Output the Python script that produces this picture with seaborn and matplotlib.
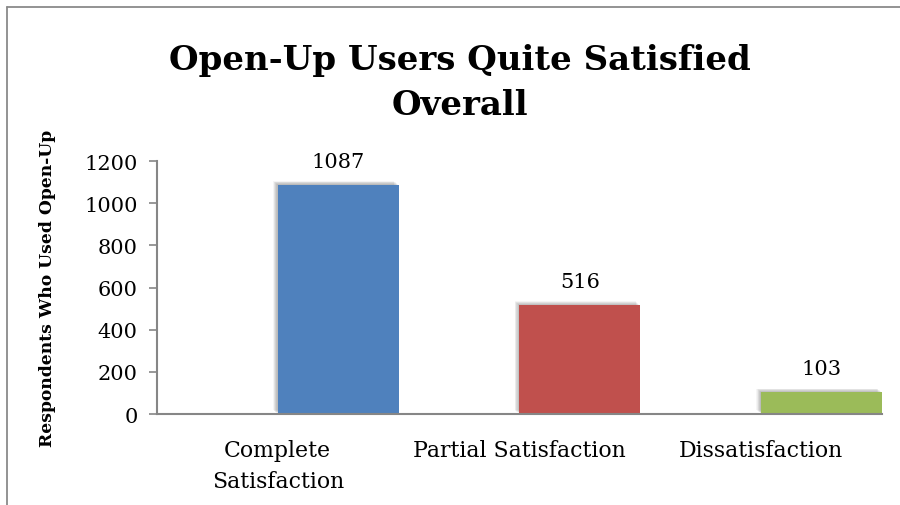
import matplotlib
matplotlib.use("Agg")
import matplotlib.pyplot as plt
import matplotlib.patheffects as pe
from matplotlib.lines import Line2D
import seaborn as sns
import pandas as pd

categories = ["Complete\nSatisfaction", "Partial Satisfaction", "Dissatisfaction"]
respondents = [1087, 516, 103]
bar_colors = ["#4F81BD", "#C0504D", "#9BBB59"]
y_ticks = [0, 200, 400, 600, 800, 1000, 1200]
title = "Open-Up Users Quite Satisfied\nOverall"
y_label = "Respondents Who Used Open-Up"

sns.set_theme(style="white")
plt.rcParams["font.family"] = ["DejaVu Serif"]
plt.rcParams["text.color"] = "black"
plt.rcParams["axes.labelcolor"] = "black"
plt.rcParams["xtick.labelcolor"] = "black"
plt.rcParams["ytick.labelcolor"] = "black"

df = pd.DataFrame({"category": categories, "respondents": respondents})

fig = plt.figure(figsize=(9, 5.06), dpi=100)
ax = fig.add_axes([0.1744, 0.1798, 0.8056, 0.5])

sns.barplot(data=df, x="category", y="respondents", hue="category",
            palette=bar_colors, width=0.5, legend=False, ax=ax,
            saturation=1, linewidth=0)

# bars sit in the right half of each category slot, with a soft shadow
shadow = [pe.SimplePatchShadow(offset=(-d, d * 0.8), shadow_rgbFace="#404040", alpha=0.05)
          for d in (3.4, 3.0, 2.6, 2.2, 1.8, 1.4, 1.0, 0.6)]
for patch in ax.patches:
    patch.set_x(patch.get_x() + 0.25)
    patch.set_path_effects(shadow + [pe.Normal()])

for patch, val in zip(ax.patches, respondents):
    ax.annotate(f"{val}", (patch.get_x() + patch.get_width() / 2, val),
                xytext=(0, 10), textcoords="offset points",
                ha="center", va="bottom", fontsize=15, color="black")

ax.set_xlim(-0.5, 2.5)
ax.set_ylim(0, 1200)
ax.set_yticks(y_ticks)
ax.set_xlabel("")
ax.set_ylabel(y_label, fontsize=12.3, fontweight="bold", labelpad=20)
ax.tick_params(axis="y", which="major", left=True, length=6, width=1.2,
               color="#868686", labelsize=15, pad=8)
ax.tick_params(axis="x", bottom=False, labelsize=15.8, pad=12)
for lbl in ax.get_xticklabels():
    lbl.set_linespacing(1.55)

sns.despine(ax=ax, top=True, right=True)
for side in ("left", "bottom"):
    ax.spines[side].set_color("#868686")
    ax.spines[side].set_linewidth(1.5)

fig.text(0.511, 0.836, title, ha="center", va="center", fontsize=24.5,
         fontweight="bold", linespacing=1.45, color="black")

# chart-area frame along the top and left edges
fx, fy = 7 / 900, 1 - 8 / 506
fig.add_artist(Line2D([fx, 1], [fy, fy], transform=fig.transFigure,
                      color="#8a8a8a", lw=1.3))
fig.add_artist(Line2D([fx, fx], [0, fy], transform=fig.transFigure,
                      color="#8a8a8a", lw=1.3))

fig.savefig("out.png", dpi=100)
